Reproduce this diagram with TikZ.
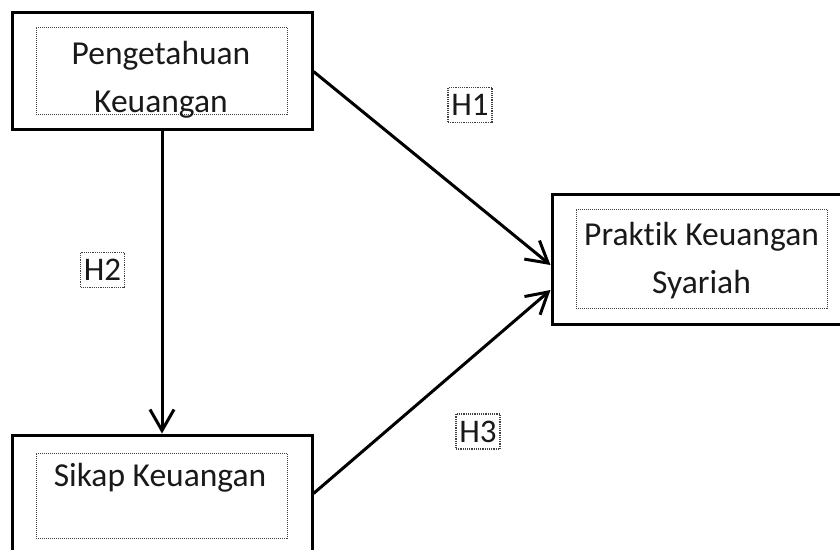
\documentclass[tikz,border=0pt]{standalone}
\usepackage{fontspec}
\setmainfont{Carlito}[Ligatures=NoCommon]
\usetikzlibrary{arrows.meta,calc}
\begin{document}
\begin{tikzpicture}[x=1pt,y=-1pt,
  framebox/.style={draw=black,line width=3pt,inner sep=0pt},
  dotbox/.style={draw=black!75,densely dotted,line width=1pt,inner sep=0pt},
  lbl/.style={font=\fontsize{33.5}{48}\selectfont,text=black!90,align=center,inner sep=0pt},
  hbox/.style={draw=black!75,densely dotted,line width=1.2pt,minimum width=44pt,minimum height=35pt,inner sep=0pt,font=\fontsize{33}{40}\selectfont,text=black!90},
  conn/.style={line width=3pt,-{Straight Barb[length=21pt,width=24pt,line width=3pt]}}
]
\useasboundingbox (0,0) rectangle (840,549);
\clip (0,0) rectangle (840,549);
% outer boxes
\node[framebox,minimum width=300pt,minimum height=117pt] (pk) at (162,70.5) {};
\node[framebox,minimum width=300pt,minimum height=117pt] (sk) at (162,493.5) {};
\node[framebox,minimum width=340pt,minimum height=130pt] (pr) at (722,259) {};
% inner dotted boxes
\node[dotbox,minimum width=251pt,minimum height=87pt] (pki) at (161.5,70.5) {};
\node[dotbox,minimum width=251pt,minimum height=85pt] (ski) at (161.5,495.5) {};
\node[dotbox,minimum width=251pt,minimum height=99pt] (pri) at (701.5,258.5) {};
% texts
\node[lbl] (pkt) at (161,79.5) {Pengetahuan\\Keuangan};
\node[lbl,anchor=base] (skt) at (160,486) {Sikap Keuangan};
\node[lbl] (prt) at (701.5,261) {Praktik Keuangan\\Syariah};
% connection points
\coordinate (pkb) at (pk.south);
\coordinate (skt2) at (pk.south |- sk.north);
\coordinate (h1s) at ($(pk.east)+(0,1)$);
\coordinate (h1e) at ($(pr.west)+(0,6)$);
\coordinate (h3s) at (sk.east);
\coordinate (h3e) at ($(pr.west)+(0,31)$);
% connectors
\draw[conn] (pkb) -- (skt2);
\draw[conn] (h1s) -- (h1e);
\draw[conn] (h3s) -- (h3e);
% hypothesis labels
\node[hbox] (h1) at (470,105) {H1};
\node[hbox] (h2) at (102.5,270) {H2};
\node[hbox] (h3) at (478,431.5) {H3};
\end{tikzpicture}
\end{document}
